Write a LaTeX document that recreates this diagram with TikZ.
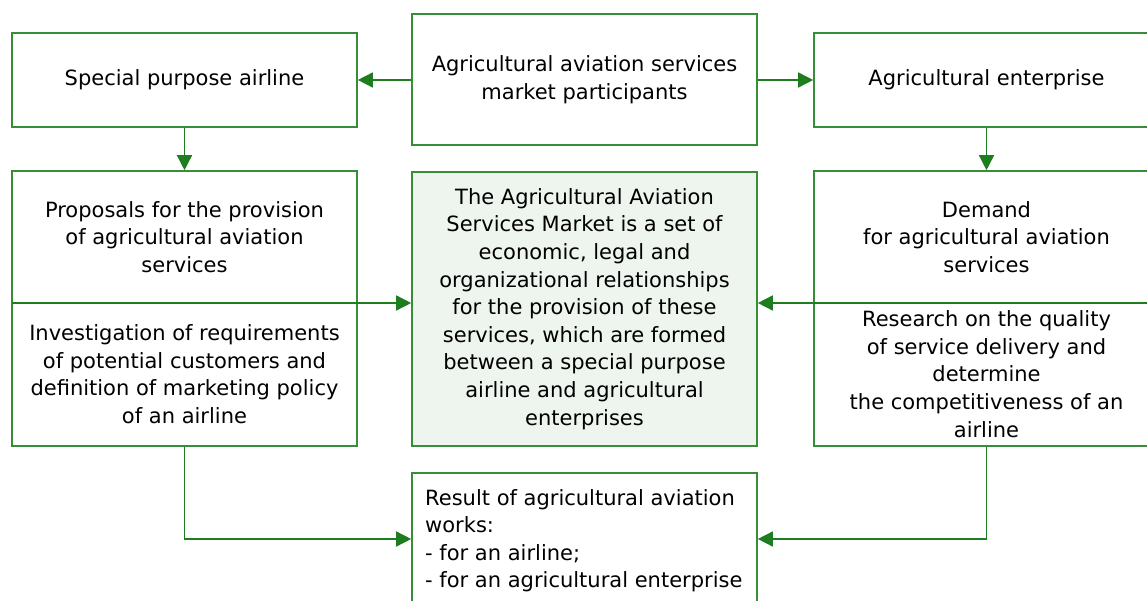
\documentclass[tikz,border=0pt]{standalone}
\usepackage{fontspec}
\setmainfont{DejaVu Sans}
\usetikzlibrary{arrows.meta}
\definecolor{boxg}{RGB}{56,142,56}
\definecolor{arrg}{RGB}{30,125,30}
\definecolor{fillg}{RGB}{238,244,238}
\begin{document}
\begin{tikzpicture}[x=1pt,y=-1pt,
  box/.style={draw=boxg,line width=1.6pt,minimum width=345pt,inner sep=0pt},
  txt/.style={font=\fontsize{21}{27.6}\selectfont,align=center,text=black},
  arr/.style={draw=arrg,line width=1.5pt,-{Triangle[length=15pt,width=15pt]}}]
\useasboundingbox (0,0) rectangle (1147,601);
% top row
\node[box,txt,minimum height=94pt] (spa) at (184.5,80) {Special purpose airline};
\node[box,txt,minimum height=131pt] (mp) at (584.5,79.5) {Agricultural aviation services\\market participants};
\node[box,txt,minimum height=94pt] (ae) at (986.5,80) {Agricultural enterprise};
% middle row
\node[box,minimum height=275pt] (lm) at (184.5,308.5) {};
\node[txt] (lmt) at (184.5,237) {Proposals for the provision\\of agricultural aviation\\services};
\node[txt] (lmb) at (184.5,374) {Investigation of requirements\\of potential customers and\\definition of marketing policy\\of an airline};
\node[box,fill=fillg,txt,minimum height=274pt] (mk) at (584.5,309) {The Agricultural Aviation\\Services Market is a set of\\economic, legal and\\organizational relationships\\for the provision of these\\services, which are formed\\between a special purpose\\airline and agricultural\\enterprises};
\node[box,minimum height=275pt] (rm) at (986.5,308.5) {};
\node[txt] (rmt) at (986.5,237) {Demand\\for agricultural aviation\\services};
\node[txt] (rmb) at (986.5,374) {Research on the quality\\of service delivery and\\determine\\the competitiveness of an\\airline};
% bottom
\node[box,minimum height=160pt] (res) at (584.5,553) {};
\node[txt,align=left,anchor=north west,inner sep=0pt] (rest) at (425,489) {Result of agricultural aviation\\works:\\- for an airline;\\- for an agricultural enterprise};
% connectors
\draw[arr] (mp.west |- spa.east) -- (spa.east);
\draw[arr] (mp.east |- ae.west) -- (ae.west);
\draw[arr] (spa.south) -- (lm.north);
\draw[arr] (ae.south) -- (rm.north);
\coordinate (ld) at (12,303);
\coordinate (rd) at (1159,303);
\draw[arr] (ld) -- (mk.west |- ld);
\draw[arr] (rd) -- (mk.east |- rd);
\draw[arr] (lm.south) |- ([yshift=14pt]res.west);
\draw[arr] (rm.south) |- ([yshift=14pt]res.east);
\end{tikzpicture}
\end{document}
